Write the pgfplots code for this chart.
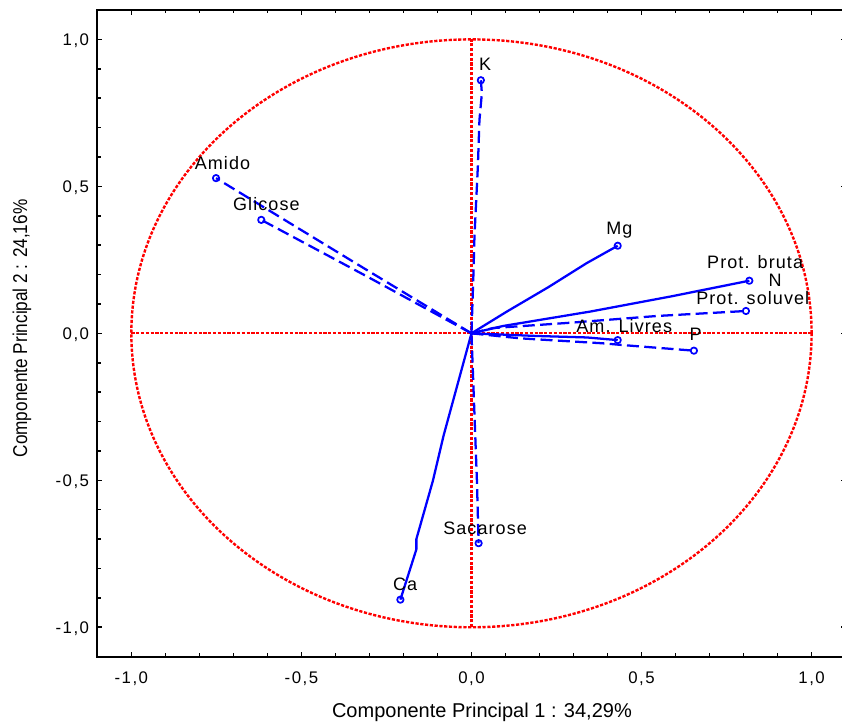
\documentclass[border=0pt]{standalone}
\usepackage{fontspec}
\setmainfont{Liberation Sans}
\newfontfamily\tickfont[LetterSpace=9]{Liberation Sans}
\newfontfamily\lblfont[LetterSpace=6]{Liberation Sans}
\newfontfamily\ylfont[FakeStretch=0.86]{Liberation Sans}
\usepackage{pgfplots}
\pgfplotsset{compat=1.18}
\definecolor{pblue}{RGB}{0,0,255}
\definecolor{pred}{RGB}{255,0,0}
\begin{document}
\begin{tikzpicture}
\begin{axis}[
  scale only axis, width=561.2pt, height=485pt,
  xmin=-1.1, xmax=1.1, ymin=-1.1, ymax=1.1,
  axis line style={line width=1.6pt},
  tick style={black, line width=1.2pt},
  tick align=inside,
  major tick length=3.75pt, minor tick length=2.6pt,
  xtick={-1,-0.5,0,0.5,1}, ytick={-1,-0.5,0,0.5,1},
  minor tick num=4,
  xticklabels={{-1,0},{-0,5},{0,0},{0,5},{1,0}},
  yticklabels={{-1,0},{-0,5},{0,0},{0,5},{1,0}},
  ticklabel style={font=\tickfont\fontsize{12.6}{14}\selectfont, inner sep=0pt},
  xticklabel style={anchor=base, yshift=-20pt},
  yticklabel style={anchor=base east, xshift=-6pt, yshift=-4.5pt},
  xlabel={Componente Principal 1 : 34,29\%},
  ylabel={Componente Principal 2 : 24,16\%},
  xlabel style={font=\fontsize{15}{18}\selectfont, at={(axis description cs:0.514,-0.0937)}, anchor=base, inner sep=0pt},
  ylabel style={font=\ylfont\fontsize{15}{18}\selectfont, at={(axis description cs:-0.1006,0.5075)}, anchor=center, inner sep=0pt},
  clip=false,
  every axis plot/.append style={line join=round},
]
% reference circle and axes
\draw[pred, line width=1.8pt, dash pattern=on 2.4pt off 1.2pt] (axis cs:0,0) ellipse [x radius=1, y radius=1];
\draw[pred, line width=1.6pt, dash pattern=on 2.4pt off 1.2pt] (axis cs:0,-1) -- (axis cs:0,1);
\draw[pred, line width=1.6pt, dash pattern=on 2.4pt off 1.2pt] (axis cs:-1,0) -- (axis cs:1,0);

% dashed loadings
\addplot[pblue, line width=1.7pt, dash pattern=on 9pt off 4pt] coordinates {(0,0) (0.0059,0.205) (0.0088,0.329) (0.0188,0.568) (0.0235,0.726) (0.0306,0.817) (0.0276,0.861)};
\addplot[pblue, line width=1.7pt, dash pattern=on 9pt off 4pt] coordinates {(0,0) (-0.317,0.222) (-0.751,0.528)};
\addplot[pblue, line width=1.7pt, dash pattern=on 9pt off 4pt] coordinates {(0,0) (-0.30,0.189) (-0.618,0.386)};
\addplot[pblue, line width=1.7pt, dash pattern=on 9pt off 4pt] coordinates {(0,0) (0.064,0.018) (0.29,0.036) (0.545,0.059) (0.807,0.076)};
\addplot[pblue, line width=1.7pt, dash pattern=on 9pt off 4pt] coordinates {(0,0) (0.143,-0.017) (0.387,-0.034) (0.446,-0.040) (0.654,-0.059)};
\addplot[pblue, line width=1.7pt, dash pattern=on 9pt off 4pt] coordinates {(0,0) (0.008,-0.25) (0.016,-0.5) (0.021,-0.714)};

% solid loadings
\addplot[pblue, line width=1.7pt] coordinates {(0,0) (0.104,0.074) (0.226,0.157) (0.339,0.239) (0.430,0.298)};
\addplot[pblue, line width=1.7pt] coordinates {(0,0) (0.093,0.025) (0.349,0.074) (0.584,0.125) (0.817,0.179)};
\addplot[pblue, line width=1.7pt] coordinates {(0,0) (0.192,-0.009) (0.339,-0.014) (0.430,-0.023)};
\addplot[pblue, line width=1.7pt] coordinates {(0,0) (-0.082,-0.348) (-0.1135,-0.502) (-0.162,-0.70) (-0.162,-0.735) (-0.209,-0.906)};

% end markers
\addplot[only marks, mark=o, pblue, mark size=2.4pt, line width=1.3pt] coordinates {
 (0.0276,0.861) (-0.751,0.528) (-0.618,0.386) (0.430,0.298) (0.817,0.179)
 (0.807,0.076) (0.430,-0.023) (0.654,-0.059) (0.021,-0.714) (-0.209,-0.906)};

% labels
\begin{scope}[every node/.style={font=\lblfont\fontsize{13.5}{15}\selectfont, inner sep=0pt, anchor=center}]
\node at (axis cs:0.040,0.915) {K};
\node at (axis cs:-0.732,0.580) {Amido};
\node at (axis cs:-0.603,0.440) {Glicose};
\node at (axis cs:0.435,0.350) {Mg};
\node at (axis cs:0.834,0.241) {Prot. bruta};
\node at (axis cs:0.893,0.181) {N};
\node at (axis cs:0.827,0.120) {Prot. soluvel};
\node at (axis cs:0.449,0.026) {Am. Livres};
\node at (axis cs:0.659,-0.002) {P};
\node at (axis cs:0.040,-0.663) {Sacarose};
\node at (axis cs:-0.195,-0.855) {Ca};
\end{scope}
\end{axis}
\pgfresetboundingbox
\path ([shift={(-73pt,-49pt)}]current axis.south west) rectangle ([shift={(-2.7pt,7.5pt)}]current axis.north east);
\end{tikzpicture}
\end{document}
